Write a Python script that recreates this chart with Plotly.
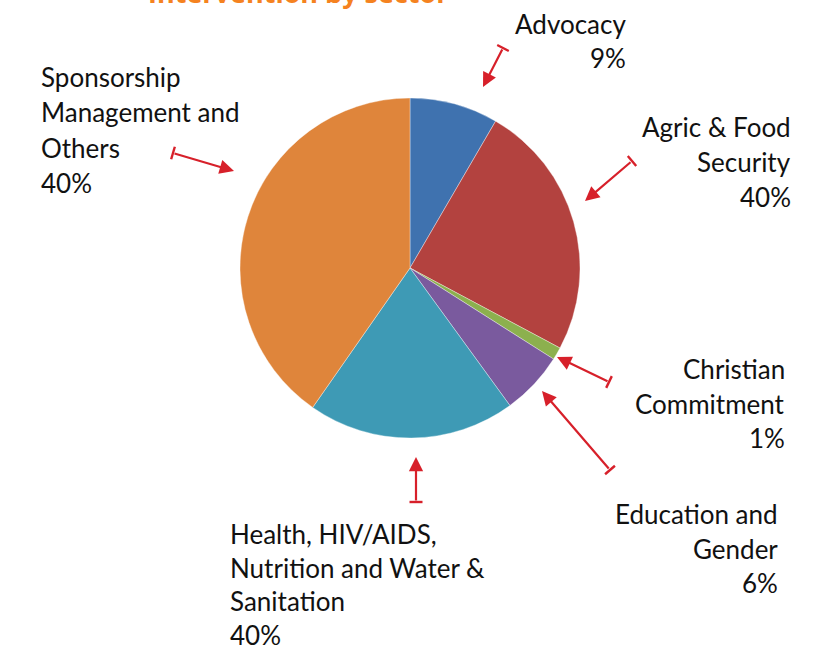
import math
import plotly.graph_objects as go

W, H = 829, 650

# ---- data ----
sectors = ["Advocacy", "Agric & Food Security", "Christian Commitment",
           "Education and Gender", "Health, HIV/AIDS, Nutrition and Water & Sanitation",
           "Sponsorship Management and Others"]
shares = [8.4, 24.4, 1.2, 6.0, 19.7, 40.3]
colors = ["#3F72AF", "#B3423F", "#8CB04E", "#7A5A9E", "#3E9AB5", "#DF853B"]

# label text lines shown next to the pie (as printed in the source)
label_lines = [
    ["Advocacy", "9%"],
    ["Agric & Food", "Security", "40%"],
    ["Christian", "Commitment", "1%"],
    ["Education and", "Gender", "6%"],
    ["Health, HIV/AIDS,", "Nutrition and Water &", "Sanitation", "40%"],
    ["Sponsorship", "Management and", "Others", "40%"],
]
title_text = "Intervention by sector"

def px(x):
    return x / W

def py(y):
    return 1 - y / H

fig = go.Figure()
cx, cy, r = 410, 268, 170
fig.add_trace(go.Pie(
    labels=sectors, values=shares, sort=False, direction="clockwise", rotation=0,
    marker=dict(colors=colors, line=dict(color="rgba(255,255,255,0.6)", width=0.6)),
    textinfo="none", hoverinfo="label+percent", showlegend=False,
    domain=dict(x=[px(cx - r), px(cx + r)], y=[py(cy + r), py(cy - r)]),
))

annotations = []
shapes = []

# label placement: (anchor x, align, first baseline, line step)
label_pos = [
    (628, "right", 33, 34.5),
    (793, "right", 136, 35),
    (787, "right", 378, 34.5),
    (780, "right", 523, 34.5),
    (228, "left", 543, 33.7),
    (39, "left", 86, 35.3),
]
FS = 26
for lines, (x0, al, b0, step) in zip(label_lines, label_pos):
    for i, t in enumerate(lines):
        annotations.append(dict(
            text=t, x=px(x0), y=py(b0 + i * step - 9), xref="paper", yref="paper",
            xanchor=al, yanchor="middle", showarrow=False,
            font=dict(family="Lato", size=FS, color="#111111"),
        ))

# arrows: (tail x, tail y, head x, head y)
arrows = [
    (503, 48, 483, 87),
    (632, 161, 585, 201),
    (609, 382, 557, 357),
    (610, 470, 542, 391),
    (416, 502, 416, 457),
    (173, 153, 234, 171),
]
RED = "#D7202A"
for tx, ty, hx, hy in arrows:
    annotations.append(dict(
        x=px(hx), y=py(hy), xref="paper", yref="paper", text="",
        showarrow=True, ax=tx - hx, ay=ty - hy, axref="pixel", ayref="pixel",
        arrowhead=2, arrowsize=1.3, arrowwidth=2.2, arrowcolor=RED,
        standoff=0, startstandoff=0,
    ))
    L = math.hypot(hx - tx, hy - ty)
    nx, ny = -(hy - ty) / L, (hx - tx) / L
    half = 6.5
    shapes.append(dict(
        type="line", xref="paper", yref="paper",
        x0=px(tx - nx * half), y0=py(ty - ny * half),
        x1=px(tx + nx * half), y1=py(ty + ny * half),
        line=dict(color=RED, width=2.4),
    ))

annotations.append(dict(
    text="<b>" + title_text + "</b>", x=px(146), y=py(-7), xref="paper", yref="paper",
    xanchor="left", yanchor="middle", showarrow=False,
    font=dict(family="Open Sans", size=27, color="#F58220"),
))

fig.update_layout(
    width=W, height=H, margin=dict(l=0, r=0, t=0, b=0),
    paper_bgcolor="white", plot_bgcolor="white",
    annotations=annotations, shapes=shapes,
)

fig.write_html("out.html", config={"displayModeBar": False},
               post_script="document.body.style.margin='0';")
